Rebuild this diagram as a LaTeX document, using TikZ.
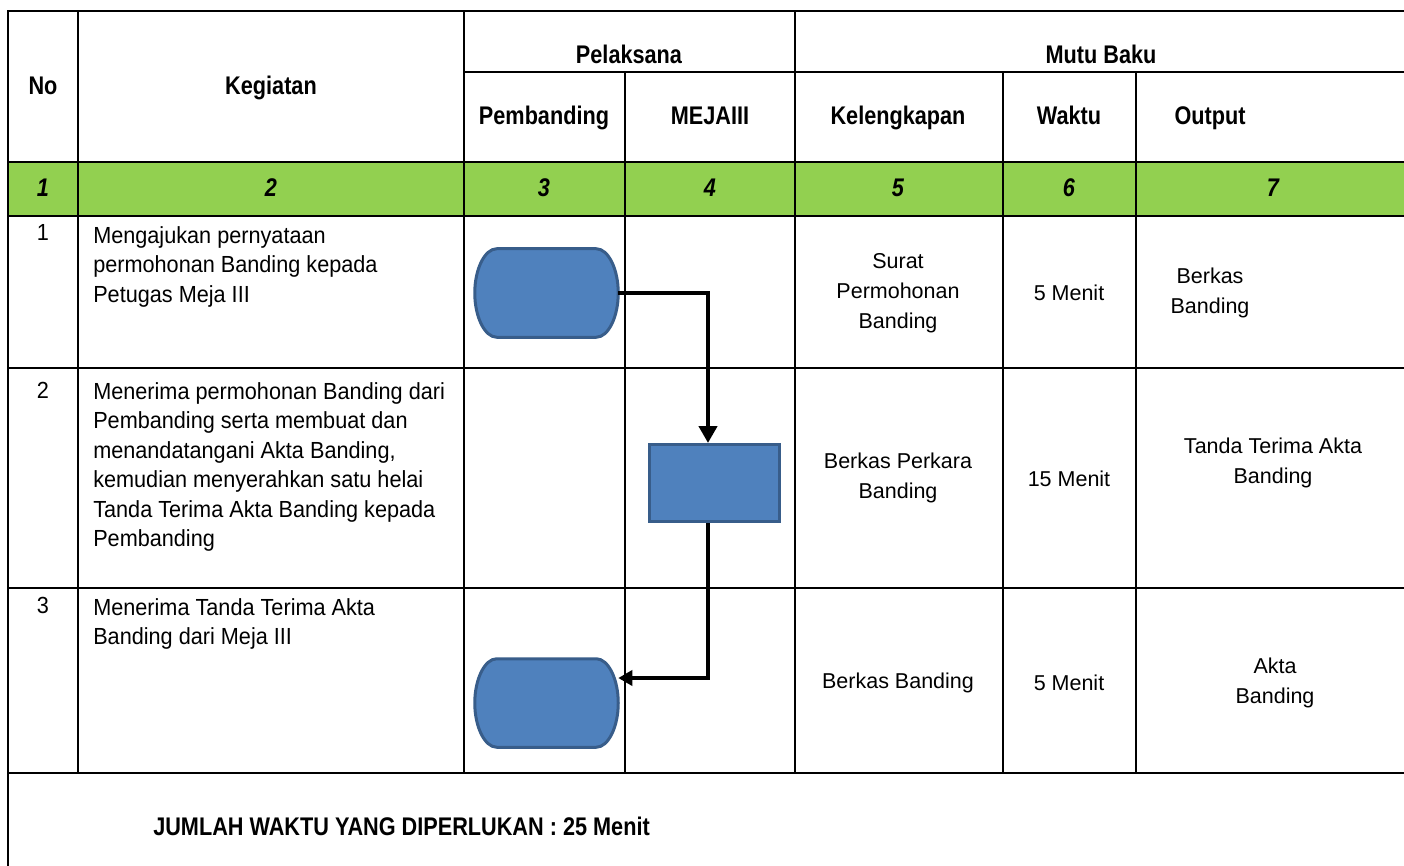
\documentclass[tikz,border=0pt]{standalone}
\usepackage{fontspec}
\setmainfont{Liberation Sans}
\newfontfamily\narrowfont[FakeStretch=0.93]{Liberation Sans}
\newfontfamily\headfont[FakeStretch=0.85]{Liberation Sans}
\usetikzlibrary{arrows.meta}
\definecolor{hijau}{HTML}{92D050}
\definecolor{biru}{HTML}{4F81BD}
\definecolor{birutua}{HTML}{385D8A}

\begin{document}
\begin{tikzpicture}[x=1pt, y=-1pt, line width=2.5pt,
  every node/.style = {inner sep=0pt},
  head/.style = {anchor=base, font=\headfont\bfseries\fontsize{25.5}{30}\selectfont},
  nomor/.style = {anchor=base, font=\headfont\bfseries\itshape\fontsize{25.5}{30}\selectfont},
  no/.style = {anchor=base, font=\narrowfont\fontsize{23.3}{29.5}\selectfont},
  keg/.style = {anchor=north west, align=left, font=\narrowfont\fontsize{23.3}{29.5}\selectfont},
  isi/.style = {align=center, font=\fontsize{21.5}{30}\selectfont},
  terminal/.style = {rectangle, minimum width=141pt, minimum height=86pt},
  termline/.style = {draw=birutua, fill=biru, line width=3pt},
  proses/.style = {rectangle, draw=birutua, fill=biru, line width=3pt,
    minimum width=130pt, minimum height=77pt},
  flow/.style = {line width=4.5pt, -{Triangle[length=17pt,width=18pt]}},
  flowback/.style = {line width=3.5pt, -{Triangle[length=14pt,width=15pt]}}]

  \useasboundingbox (0,0) rectangle (1404,866);
  \fill[hijau] (8,162) rectangle (1404,216);

  \draw (1404,11) -- (8,11) -- (8,866);
  \draw (464,72) -- (1404,72);
  \foreach \y in {162,216,368,588,773} \draw (8,\y) -- (1404,\y);
  \foreach \x in {78,464,795} \draw (\x,11) -- (\x,773);
  \foreach \x in {625,1003,1136} \draw (\x,72) -- (\x,773);

  \node[head] (No)  at (43,95)    {No};
  \node[head] (Keg) at (271,95)   {Kegiatan};
  \node[head] (Pel) at (629,64)   {Pelaksana};
  \node[head] (MB)  at (1101,64)  {Mutu Baku};
  \node[head] (Pb)  at (544,125)  {Pembanding};
  \node[head] (MJ)  at (710,125)  {MEJAIII};
  \node[head] (Kl)  at (898,125)  {Kelengkapan};
  \node[head] (Wk)  at (1069,125) {Waktu};
  \node[head] (Out) at (1210,125) {Output};

  \node[nomor] (n1) at (43,197)   {1};
  \node[nomor] (n2) at (271,197)  {2};
  \node[nomor] (n3) at (544,197)  {3};
  \node[nomor] (n4) at (710,197)  {4};
  \node[nomor] (n5) at (898,197)  {5};
  \node[nomor] (n6) at (1069,197) {6};
  \node[nomor] (n7) at (1273,197) {7};

  \node[no] (r1) at (43,241) {1};
  \node[no] (r2) at (43,398) {2};
  \node[no] (r3) at (43,613) {3};
  \node[keg] (K1) at (92,225) {Mengajukan pernyataan\\permohonan Banding kepada\\Petugas Meja III};
  \node[keg] (K2) at (92,381) {Menerima permohonan Banding dari\\Pembanding serta membuat dan\\menandatangani Akta Banding,\\kemudian menyerahkan satu helai\\Tanda Terima Akta Banding kepada\\Pembanding};
  \node[keg] (K3) at (92,597) {Menerima Tanda Terima Akta\\Banding dari Meja III};

  \node[isi] (L1) at (898,293)  {Surat\\Permohonan\\Banding};
  \node[isi] (W1) at (1069,293) {5 Menit};
  \node[isi] (O1) at (1210,293) {Berkas\\Banding};
  \node[isi] (L2) at (898,478)  {Berkas Perkara\\Banding};
  \node[isi] (W2) at (1069,479) {15 Menit};
  \node[isi] (O2) at (1273,463) {Tanda Terima Akta\\Banding};
  \node[isi] (L3) at (898,683)  {Berkas Banding};
  \node[isi] (W3) at (1069,683) {5 Menit};
  \node[isi] (O3) at (1275,683) {Akta\\Banding};

  \node[terminal] (T1) at (546.5,293) {};
  \node[proses]   (P2) at (714,483)   {};
  \node[terminal] (T3) at (546.5,703) {};
  \foreach \t in {T1,T3}
    \draw[termline] ([xshift=22pt]\t.north west) -- ([xshift=-22pt]\t.north east)
      .. controls ([xshift=-9.9pt]\t.north east) and ([yshift=23.7pt]\t.east) .. (\t.east)
      .. controls ([yshift=-23.7pt]\t.east) and ([xshift=-9.9pt]\t.south east) .. ([xshift=-22pt]\t.south east)
      -- ([xshift=22pt]\t.south west)
      .. controls ([xshift=9.9pt]\t.south west) and ([yshift=-23.7pt]\t.west) .. (\t.west)
      .. controls ([yshift=23.7pt]\t.west) and ([xshift=9.9pt]\t.north west) .. cycle;

  \draw[flow] (T1.east) -| ([xshift=-6pt]P2.north);
  \draw[flowback] ([xshift=-6pt]P2.south) |- ([yshift=25pt]T3.east);

  \node[head, anchor=base west] (Jml) at (152,835) {JUMLAH WAKTU YANG DIPERLUKAN : 25 Menit};
\end{tikzpicture}
\end{document}
